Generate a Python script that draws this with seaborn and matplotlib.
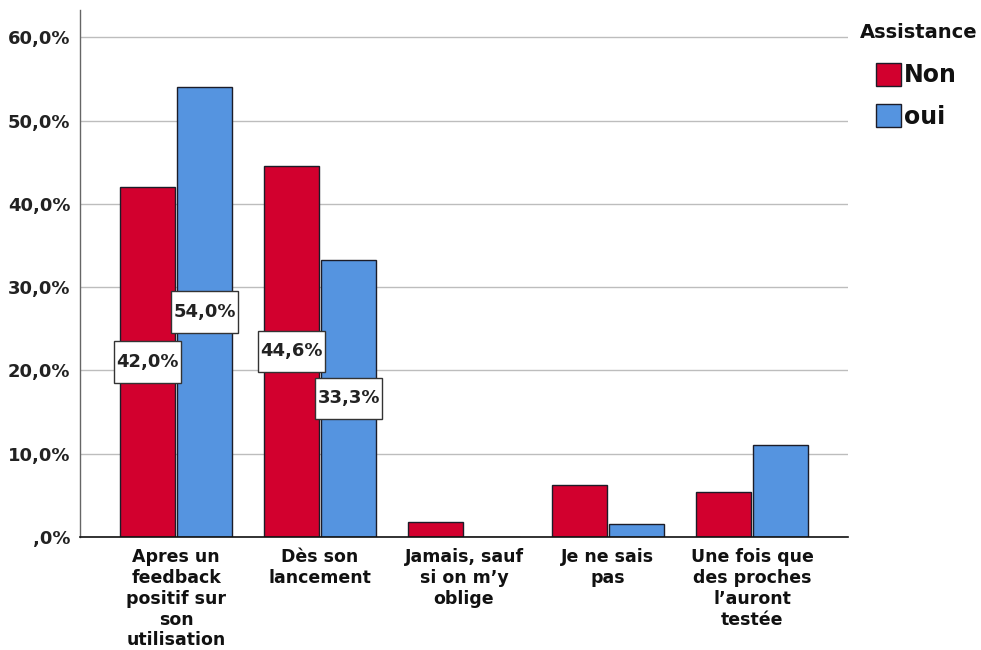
import matplotlib
matplotlib.use("Agg")
import matplotlib.pyplot as plt
from matplotlib.path import Path
from matplotlib.patches import Patch
import seaborn as sns
import pandas as pd

categories = ["Apres un\nfeedback\npositif sur\nson\nutilisation",
              "Dès son\nlancement",
              "Jamais, sauf\nsi on m’y\noblige",
              "Je ne sais\npas",
              "Une fois que\ndes proches\nl’auront\ntestée"]
groups = ["Non", "oui"]
values_non = [42.0, 44.6, 1.8, 6.3, 5.4]
values_oui = [54.0, 33.3, 0.0, 1.6, 11.1]
yticks = [0, 10, 20, 30, 40, 50, 60]
ytick_labels = [",0%", "10,0%", "20,0%", "30,0%", "40,0%", "50,0%", "60,0%"]
label_threshold = 20

df = pd.DataFrame({
    "cat": categories * 2,
    "grp": [groups[0]] * len(categories) + [groups[1]] * len(categories),
    "val": values_non + values_oui,
})

sns.set_theme(style="white")
plt.rcParams["font.family"] = ["DejaVu Sans"]
plt.rcParams["font.weight"] = "bold"

fig = plt.figure(figsize=(9.81, 6.5), dpi=100)
ax = fig.add_axes([80 / 981, 1 - 537 / 650, (848 - 80) / 981, (537 - 10) / 650])

palette = {"Non": "#D2002E", "oui": "#5594E0"}
sns.barplot(data=df, x="cat", y="val", hue="grp", order=categories,
            hue_order=groups, palette=palette, width=0.8, gap=0.04, ax=ax,
            edgecolor="#1c1c28", linewidth=1.0, saturation=1, legend=False,
            zorder=3)

ax.set_xlim(-0.667, 4.667)
ax.set_ylim(0, 63.3)
ax.set_yticks(yticks)
ax.set_yticklabels(ytick_labels, fontsize=13, fontweight="bold", color="#222222")
ax.tick_params(axis="y", length=0, pad=7)
ax.tick_params(axis="x", length=0, pad=8)
ax.set_xticks(range(len(categories)))
ax.set_xticklabels(categories, fontsize=12.5, fontweight="bold", color="#111111",
                   linespacing=1.2, va="top")
ax.set_xlabel("")
ax.set_ylabel("")
ax.grid(axis="y", color="#bdbdbd", linewidth=1.0, zorder=0)
ax.set_axisbelow(True)
for s in ["top", "right"]:
    ax.spines[s].set_visible(False)
ax.spines["left"].set_color("#666666")
ax.spines["left"].set_linewidth(1.0)
ax.spines["bottom"].set_color("#111111")
ax.spines["bottom"].set_linewidth(1.2)
ax.spines["bottom"].set_zorder(4)


def label_box(x0, y0, width, height, mutation_size):
    hp = 0.12 * mutation_size
    vp = 0.65 * mutation_size
    x0, y0 = x0 - hp, y0 - vp
    x1, y1 = x0 + width + 2 * hp, y0 + height + 2 * vp
    return Path([(x0, y0), (x1, y0), (x1, y1), (x0, y1), (x0, y0)], closed=True)


for cont in ax.containers:
    for bar in cont:
        h = bar.get_height()
        if h >= label_threshold:
            ax.text(bar.get_x() + bar.get_width() / 2, h / 2,
                    f"{h:.1f}%".replace(".", ","), ha="center", va="center",
                    fontsize=13, fontweight="bold", color="#222222", zorder=6,
                    bbox=dict(boxstyle=label_box, facecolor="white",
                              edgecolor="#333333", linewidth=1.0))

fig.text(860 / 981, 1 - 33 / 650, "Assistance", fontsize=14,
         fontweight="bold", color="#111111", ha="left", va="center")
handles = [Patch(facecolor=palette[g], edgecolor="#1c1c28", linewidth=1.0) for g in groups]
leg = fig.legend(handles, groups, loc="upper left",
                 bbox_to_anchor=(876 / 981, 1 - 63 / 650), frameon=False,
                 prop={"size": 17, "weight": "bold"}, handlelength=1.05,
                 handleheight=1.1, handletextpad=0.12, labelspacing=0.72,
                 borderpad=0, borderaxespad=0)
for t in leg.get_texts():
    t.set_color("#111111")

fig.savefig("out.png", dpi=100, facecolor="white")
